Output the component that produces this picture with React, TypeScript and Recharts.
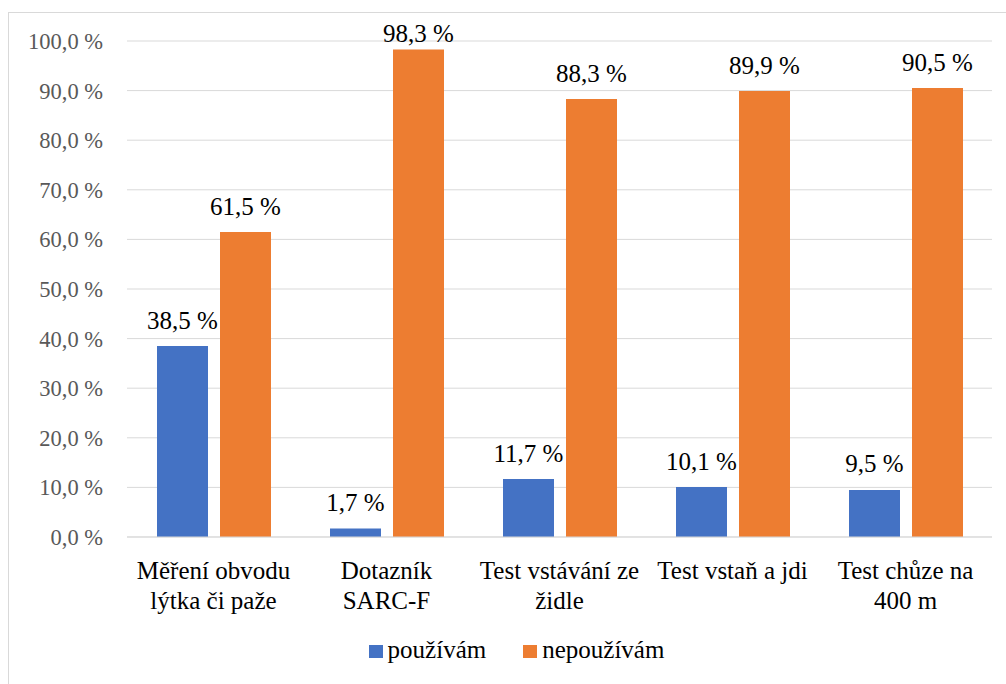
import { BarChart, Bar, XAxis, YAxis, CartesianGrid, Legend, LabelList } from 'recharts';

const categories = [
  'Měření obvodu\nlýtka či paže',
  'Dotazník\nSARC-F',
  'Test vstávání ze\nžidle',
  'Test vstaň a jdi',
  'Test chůze na\n400 m',
];
const seriesKeys = ['pouzivam', 'nepouzivam'];
const seriesNames = ['používám', 'nepoužívám'];
const pouzivam = [38.5, 1.7, 11.7, 10.1, 9.5];
const nepouzivam = [61.5, 98.3, 88.3, 89.9, 90.5];
const yTicks = [0, 10, 20, 30, 40, 50, 60, 70, 80, 90, 100];

const data = categories.map((name, i) => ({
  name,
  pouzivam: pouzivam[i],
  nepouzivam: nepouzivam[i],
}));

const FONT =
  '"Liberation Serif", "Times New Roman", Times, "Nimbus Roman", "Noto Serif", "DejaVu Serif", FreeSerif, serif';
const BLUE = '#4472C4';
const ORANGE = '#ED7D31';

const pct = (v: number) => v.toFixed(1).replace('.', ',') + ' %';

function CategoryTick({ x, y, payload }: any) {
  const lines = String(payload.value).split('\n');
  return (
    <text x={x} y={y} textAnchor="middle" fill="#000" style={{ fontSize: 25, fontFamily: FONT }}>
      {lines.map((line, i) => (
        <tspan key={i} x={x} y={y + 42 + i * 29.5}>
          {line}
        </tspan>
      ))}
    </text>
  );
}

function ValueLabel(props: any) {
  const vb = props.viewBox ?? props;
  const cx = vb.x + vb.width / 2;
  // Excel keeps labels inside the chart area near the top
  const baseline = Math.max(vb.y - 17.4, 41.7);
  return (
    <text x={cx} y={baseline} textAnchor="middle" fill="#000" style={{ fontSize: 25, fontFamily: FONT }}>
      {pct(Number(props.value))}
    </text>
  );
}

function YTick({ x, y, payload }: any) {
  return (
    <text x={x} y={y} dy="0.355em" textAnchor="end" fill="#595959" style={{ fontSize: 22.5, fontFamily: FONT }}>
      {pct(Number(payload.value))}
    </text>
  );
}

function LegendContent({ payload }: any) {
  const items = [...(payload ?? [])].sort(
    (a: any, b: any) => seriesKeys.indexOf(a.dataKey) - seriesKeys.indexOf(b.dataKey)
  );
  return (
    <div style={{ textAlign: 'center', fontFamily: FONT, fontSize: 25, lineHeight: '30px', color: '#000' }}>
      {items.map((item: any, i: number) => (
        <span key={i} style={{ marginLeft: i === 0 ? 0 : 37, whiteSpace: 'nowrap' }}>
          <span
            style={{
              display: 'inline-block',
              width: 14,
              height: 13,
              background: item.color,
              marginRight: 5,
              verticalAlign: 'baseline',
            }}
          />
          {item.value}
        </span>
      ))}
    </div>
  );
}

export default function App() {
  return (
    <div style={{ position: 'absolute', left: 0, top: 0, width: 1006, height: 684, overflow: 'hidden', background: '#fff', fontFamily: FONT }}>
      <div
        style={{
          position: 'absolute',
          left: 8,
          top: 12,
          width: 1030,
          height: 700,
          border: '1px solid #d9d9d9',
        }}
      />
      <div style={{ position: 'absolute', left: 0, top: 0 }}>
        <BarChart
          width={1006}
          height={684}
          data={data}
          margin={{ top: 41, right: 14, bottom: 0, left: 0 }}
          barSize={51}
          barGap={12}
          style={{ fontFamily: FONT }}
        >
          <CartesianGrid vertical={false} stroke="#d9d9d9" strokeWidth={1} />
          <XAxis
            dataKey="name"
            height={147}
            tickLine={false}
            tickSize={0}
            tickMargin={0}
            axisLine={{ stroke: '#d9d9d9' }}
            tick={<CategoryTick />}
            interval={0}
          />
          <YAxis
            width={127}
            domain={[0, 100]}
            ticks={yTicks}
            axisLine={false}
            tickLine={false}
            tickSize={0}
            tickMargin={24}
            tick={<YTick />}
            interval={0}
          />
          <Legend
            layout="horizontal"
            verticalAlign="middle"
            align="center"
            wrapperStyle={{ position: 'absolute', top: 635, left: 0, width: 1033 }}
            content={<LegendContent />}
          />
          <Bar dataKey={seriesKeys[0]} name={seriesNames[0]} fill={BLUE} isAnimationActive={false}>
            <LabelList dataKey={seriesKeys[0]} content={<ValueLabel />} />
          </Bar>
          <Bar dataKey={seriesKeys[1]} name={seriesNames[1]} fill={ORANGE} isAnimationActive={false}>
            <LabelList dataKey={seriesKeys[1]} content={<ValueLabel />} />
          </Bar>
        </BarChart>
      </div>
    </div>
  );
}
